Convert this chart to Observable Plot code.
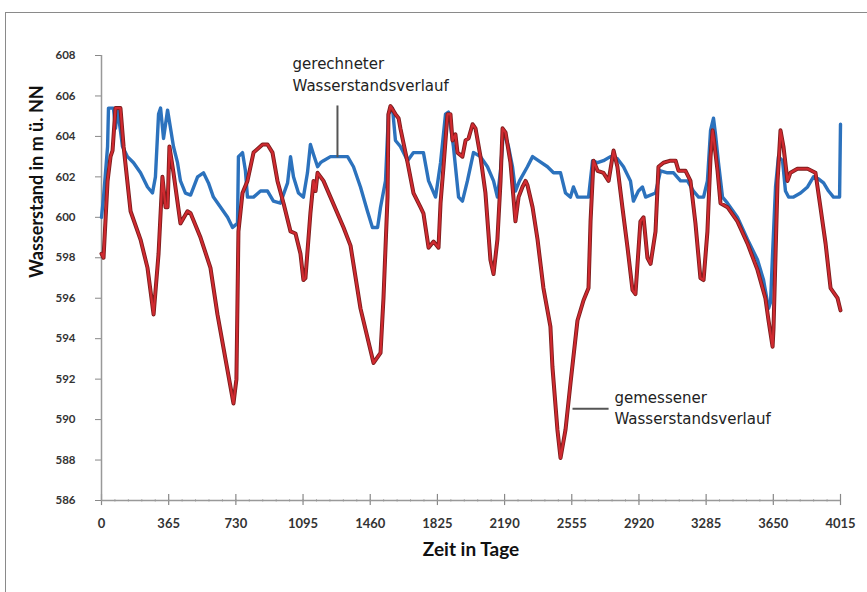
<!DOCTYPE html>
<html><head><meta charset="utf-8">
<script src="https://cdn.jsdelivr.net/npm/d3@7"></script>
<script src="https://cdn.jsdelivr.net/npm/@observablehq/plot@0.6"></script>
<style>
body{margin:0;background:#fff;overflow:hidden;}
#wrap{position:relative;width:867px;height:592px;overflow:hidden;}
#frame{position:absolute;left:5px;top:12px;width:900px;height:700px;border:1.5px solid #8a8a8a;}
#chart{position:absolute;left:0;top:0;}
</style></head><body>
<div id="wrap"><div id="frame"></div><div id="chart"></div></div>
<script>
// gemessener Wasserstandsverlauf (measured)
const measuredDays = [0,11,33,49,60,76,103,120,158,212,250,283,310,331,348,359,369,391,429,467,484,538,592,630,717,733,739,744,766,793,826,875,902,929,956,989,1027,1054,1081,1097,1108,1135,1152,1163,1174,1190,1206,1244,1315,1353,1407,1478,1516,1532,1554,1559,1570,1597,1614,1624,1663,1695,1733,1749,1777,1804,1831,1842,1858,1880,1896,1907,1923,1934,1961,1978,1994,2016,2032,2059,2086,2113,2130,2151,2168,2179,2195,2222,2238,2249,2266,2287,2304,2314,2342,2369,2401,2439,2450,2477,2494,2521,2548,2586,2619,2646,2657,2673,2695,2727,2755,2782,2803,2830,2858,2885,2901,2928,2945,2966,2983,3010,3026,3053,3091,3119,3135,3173,3200,3227,3254,3271,3292,3309,3320,3325,3347,3363,3401,3455,3510,3564,3607,3624,3646,3651,3673,3689,3705,3727,3743,3781,3836,3879,3906,3934,3961,3999,4015];
const measuredValues = [598.2,598.0,601.8,603.0,603.3,605.4,605.4,603.5,600.3,598.9,597.5,595.2,598.2,602.0,600.5,600.5,603.5,602.2,599.7,600.3,600.2,599.0,597.5,595.2,590.8,592.0,596.0,599.3,601.2,601.8,603.2,603.6,603.6,603.2,601.8,600.7,599.3,599.2,598.2,596.9,597.0,600.2,601.8,601.3,602.2,602.0,601.8,601.0,599.5,598.6,595.5,592.8,593.3,596.0,601.0,605.1,605.5,605.1,604.9,604.4,602.7,601.2,600.5,600.2,598.5,598.8,598.5,600.7,602.5,605.1,605.1,603.8,604.1,603.2,603.0,603.8,603.9,604.6,604.4,603.0,601.2,597.9,597.2,598.9,601.8,604.4,604.2,602.7,601.0,599.8,601.0,601.5,601.8,601.6,600.5,598.9,596.5,594.6,592.6,589.5,588.1,589.5,591.8,594.9,595.9,596.5,599.8,602.8,602.3,602.2,601.8,603.3,602.5,600.5,598.5,596.4,596.2,599.8,600.0,598.0,597.7,599.3,602.5,602.7,602.8,602.8,602.3,602.3,601.8,599.7,597.0,596.9,599.3,603.0,604.3,604.0,602.3,600.7,600.5,599.8,598.7,597.4,596.0,594.9,593.6,594.5,601.8,604.3,603.5,601.8,602.2,602.4,602.4,602.2,600.5,598.7,596.5,596.0,595.4];
// gerechneter Wasserstandsverlauf (computed)
const computedDays = [0,11,33,38,65,76,87,114,141,174,212,250,277,293,310,321,337,359,375,391,413,429,456,484,522,554,581,608,647,685,712,739,744,766,782,793,826,864,902,934,972,1011,1027,1043,1070,1097,1119,1135,1152,1174,1190,1206,1244,1337,1369,1407,1445,1472,1500,1516,1543,1559,1581,1597,1624,1663,1695,1749,1777,1815,1842,1869,1885,1912,1940,1961,1988,2021,2059,2097,2130,2151,2168,2184,2211,2233,2249,2271,2314,2342,2374,2423,2456,2494,2521,2548,2564,2586,2646,2668,2695,2727,2765,2803,2836,2874,2890,2917,2939,2956,3010,3037,3075,3108,3146,3184,3216,3244,3271,3292,3309,3325,3336,3352,3374,3401,3455,3510,3564,3597,3624,3635,3646,3662,3678,3700,3716,3733,3760,3798,3836,3868,3895,3923,3950,3977,4010,4015];
const computedValues = [600.0,601.0,603.5,605.4,605.4,604.4,605.4,603.5,603.0,602.7,602.2,601.5,601.2,602.0,605.1,605.4,603.9,605.3,604.4,603.5,602.7,601.8,601.2,601.1,602.0,602.2,601.7,601.0,600.5,600.0,599.5,599.7,603.0,603.2,602.3,601.0,601.0,601.3,601.3,600.8,600.7,601.7,603.0,602.0,601.2,601.0,602.2,603.6,603.1,602.5,602.7,602.8,603.0,603.0,602.5,601.5,600.3,599.5,599.5,600.5,601.8,605.1,605.4,603.8,603.5,602.8,603.2,603.2,601.8,601.0,602.7,605.1,605.2,603.5,601.0,600.8,601.8,603.2,603.0,602.5,601.8,601.0,602.3,604.3,603.5,602.5,601.3,601.8,602.5,603.0,602.8,602.5,602.2,602.2,601.2,601.0,601.5,601.0,601.0,602.8,602.7,602.8,603.0,602.9,602.5,601.8,600.8,601.3,601.5,601.0,601.2,602.3,602.2,602.2,601.8,601.8,601.3,601.0,601.0,601.8,604.3,604.9,604.1,602.7,601.0,600.7,600.0,598.9,597.9,596.9,595.5,595.8,598.2,601.5,603.0,602.8,601.3,601.0,601.0,601.2,601.5,602.0,601.9,601.7,601.3,601.0,601.0,604.6];

const xTicks = [0,365,730,1095,1460,1825,2190,2555,2920,3285,3650,4015];
const xMinorTicks = d3.range(0, 4016, 73);
const yTicks = [586,588,590,592,594,596,598,600,602,604,606,608];

const annoTexts = ["gerechneter","Wasserstandsverlauf","gemessener","Wasserstandsverlauf"];
const annoDays = [1038,1038,2787,2787];
const annoValues = [607.56,606.47,591.08,590.0];

const leaderX1 = [1282,2559], leaderX2 = [1282,2755];
const leaderY1 = [605.53,590.54], leaderY2 = [602.97,590.54];

const measured = measuredDays.map((d,i)=>({day:d, value:measuredValues[i]}));
const computed = computedDays.map((d,i)=>({day:d, value:computedValues[i]}));
const annos = annoTexts.map((t,i)=>({t, day:annoDays[i], value:annoValues[i]}));
const leaders = leaderX1.map((x,i)=>({x1:x, x2:leaderX2[i], y1:leaderY1[i], y2:leaderY2[i]}));

const font = "Lato, 'Open Sans', sans-serif";
const chart = Plot.plot({
  width: 867, height: 592,
  marginLeft: 101, marginRight: 27, marginTop: 55, marginBottom: 92,
  style: {fontFamily: font, background: "transparent", color: "#333", overflow: "visible"},
  x: {domain: [0, 4015]},
  y: {domain: [586, 608]},
  marks: [
    Plot.axisY({ticks: yTicks, tickSize: 6, tickPadding: 20, stroke: "#888", fontSize: 11.5, fontWeight: "bold", label: null, tickFormat: d => String(d)}),
    Plot.axisX({ticks: xTicks, tickSize: 0, tickPadding: 18, fontSize: 13, fontWeight: "bold", label: null, tickFormat: d => String(d)}),
    Plot.ruleX(xMinorTicks, {y1: 585.93, y2: 586.03, stroke: "#888", strokeWidth: 1}),
    Plot.ruleX(xTicks, {y1: 585.75, y2: 586.3, stroke: "#888", strokeWidth: 1.2}),
    Plot.ruleY([586], {x1: 0, x2: 4015, stroke: "#999", strokeWidth: 1.5}),
    Plot.ruleX([0], {y1: 586, y2: 608, stroke: "#999", strokeWidth: 1.5}),
    Plot.line(computed, {x: "day", y: "value", stroke: "#2c72bd", strokeWidth: 3.4, strokeLinejoin: "round"}),
    Plot.line(measured, {x: "day", y: "value", stroke: "#7d1d1d", strokeWidth: 4, strokeLinejoin: "round"}),
    Plot.line(measured, {x: "day", y: "value", stroke: "#d02a30", strokeWidth: 2.2, strokeLinejoin: "round"}),
    Plot.link(leaders, {x1: "x1", x2: "x2", y1: "y1", y2: "y2", stroke: "#555", strokeWidth: 2}),
    Plot.text(annos, {x: "day", y: "value", text: "t", textAnchor: "start", fontSize: 15, fontFamily: "'DejaVu Sans', sans-serif", fill: "#222", style: "letter-spacing:2.3px"}),
    Plot.text(["Wasserstand in m ü. NN"], {frameAnchor: "left", rotate: -90, dx: -64, fontSize: 18, fontWeight: "bold", fill: "#111"}),
    Plot.text(["Zeit in Tage"], {frameAnchor: "bottom", dy: 55, fontSize: 19, fontWeight: "bold", fill: "#111"})
  ]
});
document.getElementById("chart").appendChild(chart);
</script>
</body></html>
